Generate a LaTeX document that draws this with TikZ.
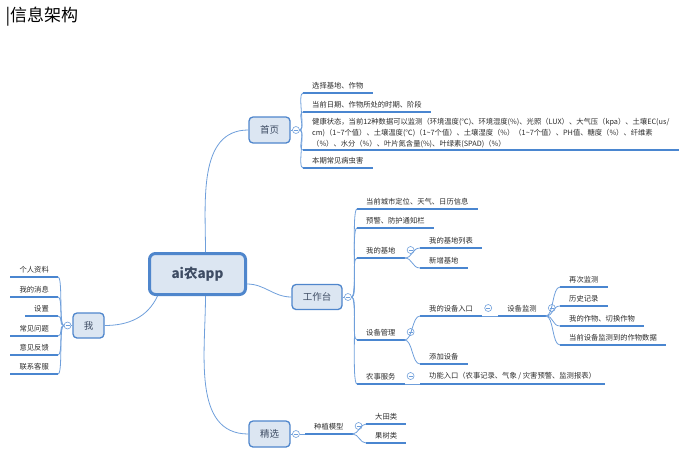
\documentclass[tikz,border=0pt]{standalone}
\usepackage{fontspec}
\setmainfont{Noto Sans CJK SC}
\usetikzlibrary{positioning}
\definecolor{boxfill}{HTML}{DCE6F2}
\definecolor{boxline}{HTML}{4F86CC}
\definecolor{ulinec}{HTML}{4A86D0}
\definecolor{linkc}{HTML}{6F9FDB}
\definecolor{txt}{HTML}{2B2B2B}
\definecolor{boxtxt}{HTML}{3E4C63}
\tikzset{
    root/.style={draw=boxline, fill=boxfill, line width=3pt, rounded corners=6pt,
        minimum width=96pt, minimum height=41pt, text=boxtxt,
        font=\fontsize{13.5}{16}\selectfont\bfseries}, % the central topic
    topic/.style={draw=boxline, fill=boxfill, line width=1.3pt, rounded corners=4pt,
        inner sep=0pt, text=boxtxt, font=\fontsize{9.5}{11}\selectfont},
    leaf/.style={anchor=south west, inner xsep=9pt, inner ysep=4pt, text=txt,
        font=\fontsize{7.3}{11}\selectfont}, % text sitting on an underline
    leafl/.style={leaf, anchor=south east},
    underln/.style={draw=ulinec, line width=1.8pt},
    link/.style={draw=linkc, line width=0.8pt},
    branch/.style={to path={.. controls +(#1,0) and +(-#1,0) .. (\tikztotarget)}},
    branch/.default=6pt,
    fold/.style={circle, draw=linkc, fill=white, line width=0.6pt, minimum size=7pt, inner sep=0pt,
        path picture={\draw[linkc, line width=0.6pt]
            ([xshift=-2pt]path picture bounding box.center) -- ([xshift=2pt]path picture bounding box.center);}},
}
\begin{document}
\begin{tikzpicture}[x=1pt,y=-1pt]
  \useasboundingbox (0,0) rectangle (692,458);
  \node[anchor=west, font=\fontsize{17}{20}\selectfont] (title) at (2,17) {|信息架构};

  % central and main topics
  \node[root] (app) at (197.5,274) {ai农app};
  \node[topic, minimum width=41pt, minimum height=26pt] (home) at (269.5,130) {首页};
  \node[topic, minimum width=50pt, minimum height=25pt] (work) at (317,297) {工作台};
  \node[topic, minimum width=41pt, minimum height=26pt] (pick) at (269.5,434) {精选};
  \node[topic, minimum width=31pt, minimum height=25pt] (me) at (88.5,325.5) {我};

  % 首页
  \node[leaf] (h1) at (303,93) {选择基地、作物};
  \node[leaf] (h2) at (303,112) {当前日期、作物所处的时期、阶段};
  \node[leaf, align=left, inner ysep=2pt] (h3) at (303,150)
    {健康状态，当前12种数据可以监测（环境温度(℃)、环境湿度(\%)、光照（LUX）、大气压（kpa）、土壤EC(us/\\
     cm)（1\textasciitilde 7个值）、土壤温度(℃)（1\textasciitilde 7个值）、土壤湿度（\%）（1\textasciitilde 7个值）、PH值、糖度（\%）、纤维素\\
     （\%）、水分（\%）、叶片氮含量(\%)、叶绿素(SPAD)（\%）};
  \node[leaf] (h4) at (303,168) {本期常见病虫害};

  % 工作台
  \node[leaf] (w1) at (357,209) {当前城市定位、天气、日历信息};
  \node[leaf] (w2) at (357,228) {预警、防护通知栏};
  \node[leaf] (w3) at (357,258) {我的基地};
  \node[leaf] (w4) at (357,340) {设备管理};
  \node[leaf] (w5) at (357,384) {农事服务};
  \node[leaf] (b1) at (420,248) {我的基地列表};
  \node[leaf] (b2) at (420,268) {新增基地};
  \node[leaf] (d1) at (420,316) {我的设备入口};
  \node[leaf] (d2) at (420,364) {添加设备};
  \node[leaf] (d3) at ([xshift=16pt]d1.south east) {设备监测};
  \node[leaf] (m1) at (560,287) {再次监测};
  \node[leaf] (m2) at (560,306) {历史记录};
  \node[leaf] (m3) at (560,326) {我的作物、切换作物};
  \node[leaf] (m4) at (560,345) {当前设备监测到的作物数据};
  \node[leaf] (f1) at (420,384) {功能入口（农事记录、气象 / 灾害预警、监测报表）};

  % 精选
  \node[leaf] (p1) at (305,434) {种植模型};
  \node[leaf] (p2) at (366,424) {大田类};
  \node[leaf] (p3) at (366,443) {果树类};

  % 我
  \node[leafl] (e1) at (58,277) {个人资料};
  \node[leafl] (e2) at (58,297) {我的消息};
  \node[leafl] (e3) at (58,316) {设置};
  \node[leafl] (e4) at (58,336) {常见问题};
  \node[leafl] (e5) at (58,355) {意见反馈};
  \node[leafl] (e6) at (58,374) {联系客服};

  \foreach \n in {h1,h2,h3,h4,w1,w2,w3,w4,w5,b1,b2,d1,d2,d3,m1,m2,m3,m4,f1,p1,p2,p3,e1,e2,e3,e4,e5,e6}
    \draw[underln] (\n.south west) -- (\n.south east);

  % collapse markers
  \node[fold, right=1.5pt of home] (fhome) {};
  \node[fold, right=1.5pt of work] (fwork) {};
  \node[fold, right=1.5pt of pick] (fpick) {};
  \node[fold, left=1pt of me] (fme) {};
  \node[fold] (fw3) at ([xshift=6pt,yshift=8pt]w3.south east) {};
  \node[fold] (fw4) at ([xshift=6pt,yshift=8pt]w4.south east) {};
  \node[fold] (fw5) at ([xshift=6pt,yshift=8pt]w5.south east) {};
  \node[fold] (fd1) at ([xshift=6pt,yshift=8pt]d1.south east) {};
  \node[fold] (fd3) at ([xshift=6pt,yshift=8pt]d3.south east) {};
  \node[fold] (fp1) at ([xshift=6pt,yshift=8pt]p1.south east) {};

  % connectors
  \path[link]
    ([xshift=8pt]app.north) edge[out=90,in=180] (home.west)
    ([yshift=-10pt]app.east) edge[out=0,in=180] (work.west)
    ([xshift=8pt]app.south) edge[out=-90,in=180] (pick.west)
    ([xshift=-40pt]app.south) edge[out=-115,in=0] (me.east)
    (home) edge (fhome) (work) edge (fwork) (pick) edge (fpick) (me) edge (fme)
    (fhome.east) edge[branch] (h1.south west)
    (fhome.east) edge[branch] (h2.south west)
    (fhome.east) edge[branch] (h3.south west)
    (fhome.east) edge[branch] (h4.south west)
    (fwork.east) edge[branch] (w1.south west)
    (fwork.east) edge[branch] (w2.south west)
    (fwork.east) edge[branch] (w3.south west)
    (fwork.east) edge[branch] (w4.south west)
    (fwork.east) edge[branch] (w5.south west)
    (w3.south east) edge[branch=8pt] (b1.south west)
    (w3.south east) edge[branch=8pt] (b2.south west)
    (w4.south east) edge[branch=8pt] (d1.south west)
    (w4.south east) edge[branch=8pt] (d2.south west)
    (w5.south east) edge (f1.south west)
    (d1.south east) edge (d3.south west)
    (d3.south east) edge[branch=8pt] (m1.south west)
    (d3.south east) edge[branch=8pt] (m2.south west)
    (d3.south east) edge[branch=8pt] (m3.south west)
    (d3.south east) edge[branch=8pt] (m4.south west)
    (fpick.east) edge (p1.south west)
    (p1.south east) edge[branch] (p2.south west)
    (p1.south east) edge[branch] (p3.south west)
    (fme.west) edge[branch=-5pt] (e1.south east)
    (fme.west) edge[branch=-5pt] (e2.south east)
    (fme.west) edge[branch=-5pt] (e3.south east)
    (fme.west) edge[branch=-5pt] (e4.south east)
    (fme.west) edge[branch=-5pt] (e5.south east)
    (fme.west) edge[branch=-5pt] (e6.south east);
\end{tikzpicture}
\end{document}
